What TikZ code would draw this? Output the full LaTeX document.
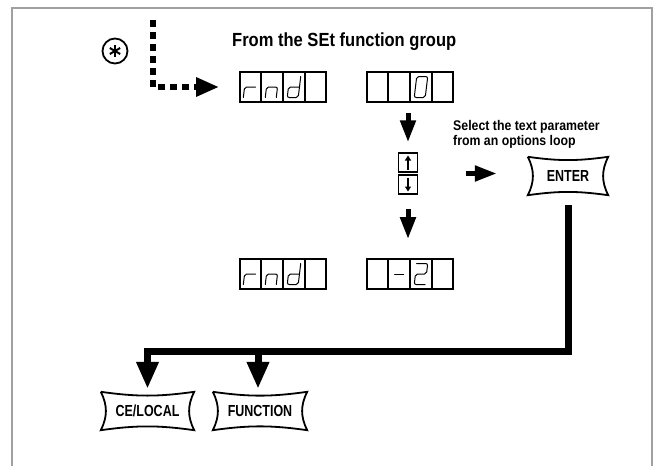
\documentclass[tikz,border=0pt]{standalone}
\usepackage{fontspec}
\setmainfont{Liberation Sans}
\newfontfamily\keyfnt[FakeStretch=0.78]{Liberation Sans}
\newfontfamily\selfnt[FakeStretch=0.88]{Liberation Sans}
\newfontfamily\ttlfnt[FakeStretch=0.87]{Liberation Sans}
\usetikzlibrary{arrows.meta,calc}
\definecolor{framegray}{RGB}{160,160,160}
\tikzset{
  frame/.style={draw=framegray, line width=2pt},
  disp/.style={draw, line width=1.8pt, minimum width=86pt, minimum height=30pt, inner sep=0pt},
  cellsep/.style={line width=1.4pt},
  seg/.style={line width=1pt, rounded corners=2pt, line cap=round},
  keybox/.style={inner sep=0pt, font=\keyfnt\bfseries\fontsize{16}{18}\selectfont},
  keyline/.style={line width=1.8pt, line join=miter},
  fatarrow/.style={line width=5pt, -{Triangle[length=22pt,width=15pt]}},
  bigline/.style={line width=7pt, line join=miter},
  bigarrow/.style={line width=7pt, -{Triangle[length=27pt,width=21pt]}},
  dashline/.style={line width=6pt, dash pattern=on 7pt off 5pt, -{Triangle[length=23pt,width=18pt]}},
  smallbox/.style={draw, line width=1.5pt, minimum width=19pt, minimum height=19pt, inner sep=0pt},
  smallarrow/.style={line width=1.5pt, -{Triangle[length=5pt,width=6pt]}},
}
\newcommand\keyoutline[1]{\draw[keyline] (#1.north west) to[bend right=8] (#1.north east) to[bend right=27] (#1.south east) to[bend right=8] (#1.south west) to[bend right=27] (#1.north west);}
\newcommand\cells[1]{\foreach \f in {0.25,0.5,0.75}{\draw[cellsep] ($(#1.north west)!\f!(#1.north east)$) -- ($(#1.south west)!\f!(#1.south east)$);}}
\newcommand\digat[3]{\begin{scope}[shift={($(#1.west)!#2!(#1.east)$)},xslant=0.12] #3 \end{scope}}
\newcommand\dR{\draw[seg] (-5.5,10.5) -- (-5.5,0) -- (5.5,0);}
\newcommand\dN{\draw[seg] (-5.5,10.5) -- (-5.5,0) -- (5.5,0) -- (5.5,10.5);}
\newcommand\dD{\draw[seg] (5.5,-10.5) -- (5.5,10.5) -- (-5.5,10.5) -- (-5.5,0) -- (5.5,0);}
\newcommand\dZero{\draw[seg] (-5.5,-10.5) rectangle (5.5,10.5);}
\newcommand\dTwo{\draw[seg] (-5.5,-10.5) -- (5.5,-10.5) -- (5.5,0) -- (-5.5,0) -- (-5.5,10.5) -- (5.5,10.5);}
\newcommand\dMinus{\draw[seg] (-4.5,0) -- (4.5,0);}
\begin{document}
\begin{tikzpicture}[x=1pt,y=-1pt]
\useasboundingbox (0,0) rectangle (659,466);
\clip (0,0) rectangle (659,466);
% frame
\draw[frame] (12,470) -- (12,8) -- (652,8) -- (652,470);

% star
\node[circle, draw, line width=1.8pt, minimum size=25pt, inner sep=0pt] (star) at (115,51) {};
\foreach \a in {90,30,150}{\draw[line width=2pt] ($(star.center)+(\a:6pt)$) -- ($(star.center)+(\a+180:6pt)$);}

% title
\node[anchor=base west, inner sep=0pt, font=\ttlfnt\bfseries\fontsize{19}{21}\selectfont] (title) at (232,46) {From the SEt function group};

% displays
\node[disp] (d1) at (283,87) {};
\node[disp] (d2) at (410,87) {};
\node[disp] (d3) at (283,274) {};
\node[disp] (d4) at (410,274) {};
\cells{d1}\cells{d2}\cells{d3}\cells{d4}
\digat{d1}{0.125}{\dR}\digat{d1}{0.375}{\dN}\digat{d1}{0.625}{\dD}
\digat{d2}{0.625}{\dZero}
\digat{d3}{0.125}{\dR}\digat{d3}{0.375}{\dN}\digat{d3}{0.625}{\dD}
\digat{d4}{0.375}{\dMinus}\digat{d4}{0.625}{\dTwo}

% dashed entry
\coordinate (ds) at (153,20);
\draw[dashline, shorten >=20pt] (ds) |- (d1.west);

% up/down keys
\node[smallbox] (up) at (408,162.5) {};
\node[smallbox] (dn) at (408,184.5) {};
\draw[smallarrow] ([yshift=-7pt]up.center) -- ([yshift=7pt]up.center);
\draw[smallarrow] ([yshift=7pt]dn.center) -- ([yshift=-7pt]dn.center);

\draw[fatarrow, shorten <=10pt, shorten >=10pt] (d2.south -| up.north) -- (up.north);
\draw[fatarrow, shorten <=14pt, shorten >=19pt] (dn.south) -- (dn.south |- d4.north);

% select text
\node[anchor=north west, inner sep=0pt, align=left, font=\selfnt\bfseries\fontsize{14}{15}\selectfont] (sel) at (453,120) {Select the text parameter\\from an options loop};

% enter
\node[keybox, minimum width=80pt, minimum height=38pt] (enter) at (568,176) {ENTER};
\keyoutline{enter}
\coordinate (mid) at ($(up.south east)!0.5!(dn.north east)$);
\draw[fatarrow, shorten <=48pt, shorten >=31pt] (mid) -- (mid -| enter.west);

% bottom keys
\node[keybox, minimum width=93pt, minimum height=38pt] (ce) at (147.5,411) {CE/LOCAL};
\node[keybox, minimum width=94pt, minimum height=38pt] (fn) at (260,411) {FUNCTION};
\keyoutline{ce}\keyoutline{fn}

\coordinate (j) at (258,351);
\draw[bigline] ([yshift=-10pt]enter.south) |- (j);
\draw[bigarrow, shorten >=3pt] (j) -| (ce.north);
\draw[bigarrow, shorten >=3pt] (j) -- (j |- fn.north);
\end{tikzpicture}
\end{document}
